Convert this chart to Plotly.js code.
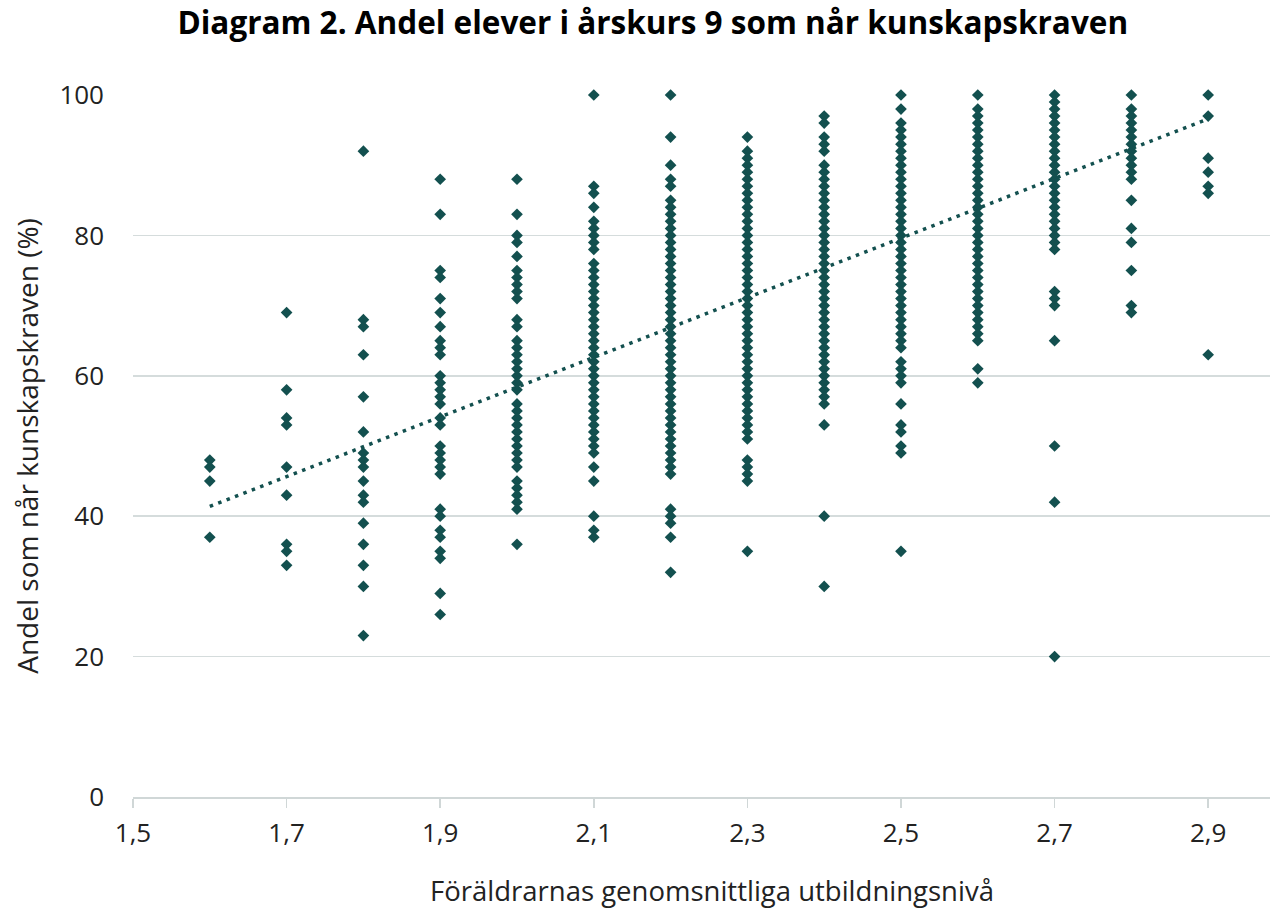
<!DOCTYPE html>
<html>
<head>
<meta charset="utf-8">
<script src="https://cdn.plot.ly/plotly-3.0.1.min.js"></script>
<style>html,body{margin:0;padding:0;background:#fff;}#chart{width:1270px;height:912px;}</style>
</head>
<body>
<div id="chart"></div>
<script>
// Parents' average education level (x) for each column of schools
var levels = [1.6, 1.7, 1.8, 1.9, 2.0, 2.1, 2.2, 2.3, 2.4, 2.5, 2.6, 2.7, 2.8, 2.9];

// Share of pupils reaching the knowledge requirements (%) per column
var y_16 = [48, 47, 45, 37];
var y_17 = [69, 58, 54, 53, 47, 43, 36, 35, 33];
var y_18 = [92, 68, 67, 63, 57, 52, 49, 48, 47, 45, 43, 42, 39, 36, 33, 30, 23];
var y_19 = [88, 83, 75, 74, 71, 69, 67, 65, 64, 63, 60, 59, 58, 57, 56, 54, 53, 50, 49, 48, 47, 46, 41, 40, 38, 37, 35, 34, 29, 26];
var y_20 = [88, 83, 80, 79, 77, 75, 74, 73, 72, 71, 68, 67, 65, 64, 63, 62, 61, 60, 59, 58, 56, 55, 54, 53, 52, 51, 50, 49, 48, 47, 45, 44, 43, 42, 41, 36];
var y_21 = [100, 87, 86, 84, 82, 81, 80, 79, 78, 76, 75, 74, 73, 72, 71, 70, 69, 68, 67, 66, 65, 64, 63, 62, 61, 60, 59, 58, 57, 56, 55, 54, 53, 52, 51, 50, 49, 47, 45, 40, 38, 37];
var y_22 = [100, 94, 90, 88, 87, 85, 84, 83, 82, 81, 80, 79, 78, 77, 76, 75, 74, 73, 72, 71, 70, 69, 68, 67, 66, 65, 64, 63, 62, 61, 60, 59, 58, 57, 56, 55, 54, 53, 52, 51, 50, 49, 48, 47, 46, 41, 40, 39, 37, 32];
var y_23 = [94, 92, 91, 90, 89, 88, 87, 86, 85, 84, 83, 82, 81, 80, 79, 78, 77, 76, 75, 74, 73, 72, 71, 70, 69, 68, 67, 66, 65, 64, 63, 62, 61, 60, 59, 58, 57, 56, 55, 54, 53, 52, 51, 48, 47, 46, 45, 35];
var y_24 = [97, 96, 94, 93, 92, 90, 89, 88, 87, 86, 85, 84, 83, 82, 81, 80, 79, 78, 77, 76, 75, 74, 73, 72, 71, 70, 69, 68, 67, 66, 65, 64, 63, 62, 61, 60, 59, 58, 57, 56, 53, 40, 30];
var y_25 = [100, 98, 96, 95, 94, 93, 92, 91, 90, 89, 88, 87, 86, 85, 84, 83, 82, 81, 80, 79, 78, 77, 76, 75, 74, 73, 72, 71, 70, 69, 68, 67, 66, 65, 64, 62, 61, 60, 59, 56, 53, 52, 50, 49, 35];
var y_26 = [100, 98, 97, 96, 95, 94, 93, 92, 91, 90, 89, 88, 87, 86, 85, 84, 83, 82, 81, 80, 79, 78, 77, 76, 75, 74, 73, 72, 71, 70, 69, 68, 67, 66, 65, 61, 59];
var y_27 = [100, 99, 98, 97, 96, 95, 94, 93, 92, 91, 90, 89, 88, 87, 86, 85, 84, 83, 82, 81, 80, 79, 78, 72, 71, 70, 65, 50, 42, 20];
var y_28 = [100, 98, 97, 96, 95, 94, 93, 92, 91, 90, 89, 88, 85, 81, 79, 75, 70, 69];
var y_29 = [100, 97, 91, 89, 87, 86, 63];

var columns = [y_16, y_17, y_18, y_19, y_20, y_21, y_22, y_23, y_24, y_25, y_26, y_27, y_28, y_29];

// Linear trend line endpoints
var trend_x = [1.6, 2.9];
var trend_y = [41.4, 96.6];

var xTicks = [1.5, 1.7, 1.9, 2.1, 2.3, 2.5, 2.7, 2.9];
var yTicks = [0, 20, 40, 60, 80, 100];

var px = [], py = [];
columns.forEach(function (col, i) {
  col.forEach(function (v) { px.push(levels[i]); py.push(v); });
});

var color = '#13504f';
var traces = [
  {
    x: px, y: py, type: 'scatter', mode: 'markers', cliponaxis: false,
    marker: {symbol: 'diamond', size: 9, color: color, line: {width: 0}},
    hoverinfo: 'x+y'
  },
  {
    x: trend_x, y: trend_y, type: 'scatter', mode: 'lines', cliponaxis: false,
    line: {color: color, width: 3.5, dash: '3.5px,5.5px'},
    hoverinfo: 'skip'
  }
];

var layout = {
  width: 1270, height: 912,
  margin: {l: 133, r: 0, t: 95, b: 115},
  paper_bgcolor: '#fff', plot_bgcolor: '#fff',
  showlegend: false,
  separators: ', ',
  font: {family: '"Open Sans", "Noto Sans", sans-serif', color: '#222'},
  title: {
    text: '<b>Diagram 2. Andel elever i årskurs 9 som når kunskapskraven</b>',
    font: {family: '"Open Sans", "Noto Sans", sans-serif', size: 31.5, color: '#000'},
    x: 0.514, xanchor: 'center', y: 0.975, yanchor: 'middle'
  },
  xaxis: {
    range: [1.5, 2.9805], tickvals: xTicks, tickformat: '.1f',
    showgrid: false, zeroline: false,
    showline: true, linecolor: '#d0d7d7', linewidth: 2,
    ticks: 'outside', ticklen: 9, tickwidth: 1.5, tickcolor: '#d0d7d7',
    tickfont: {size: 26, color: '#222'}, ticklabelstandoff: 3
  },
  yaxis: {
    range: [0, 100], tickvals: yTicks,
    showgrid: true, gridcolor: '#d5dcdc', gridwidth: 1.5,
    zeroline: false, showline: false, ticks: '',
    tickfont: {size: 26, color: '#222'}, ticklabelstandoff: 28,
    title: {text: 'Andel som når kunskapskraven (%)', font: {size: 28, color: '#222'}, standoff: 12}
  },
  annotations: [{
    text: 'Föräldrarnas genomsnittliga utbildningsnivå',
    xref: 'paper', yref: 'paper', x: 0.509, y: -0.1325,
    xanchor: 'center', yanchor: 'middle', showarrow: false,
    font: {size: 27.5, color: '#222'}
  }]
};

Plotly.newPlot('chart', traces, layout, {displayModeBar: false, staticPlot: true});
</script>
</body>
</html>
